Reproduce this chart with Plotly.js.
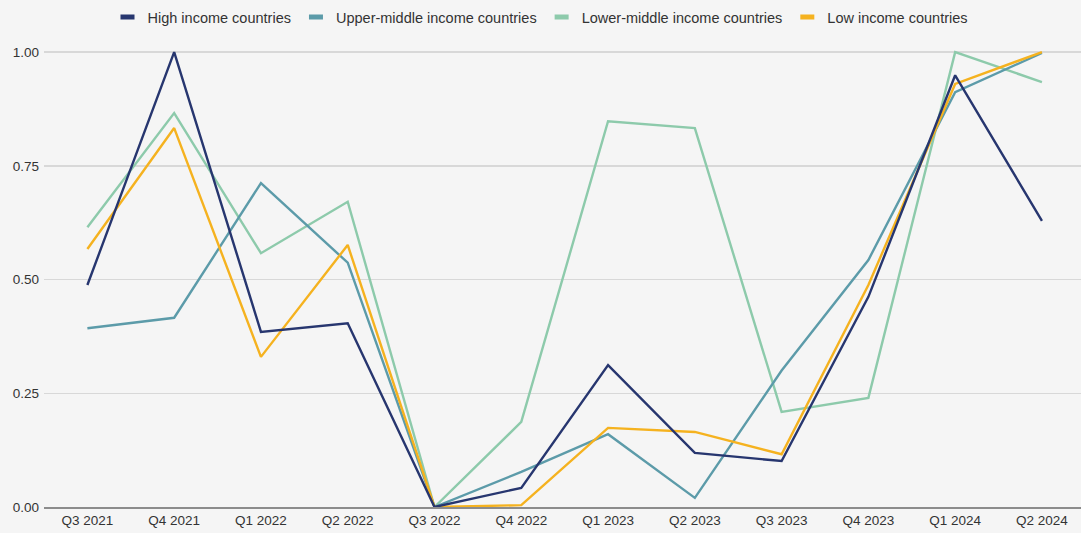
<!DOCTYPE html>
<html><head><meta charset="utf-8">
<script src="https://cdn.plot.ly/plotly-3.0.1.min.js"></script>
<style>html,body{margin:0;padding:0;background:#f5f5f5;}#chart{width:1081px;height:533px;}</style>
</head><body><div id="chart"></div>
<script>
const quarters = ["Q3 2021","Q4 2021","Q1 2022","Q2 2022","Q3 2022","Q4 2022","Q1 2023","Q2 2023","Q3 2023","Q4 2023","Q1 2024","Q2 2024"];
const highIncome = [0.488,1.00,0.385,0.404,0.0,0.042,0.312,0.119,0.101,0.462,0.949,0.629];
const upperMiddle = [0.393,0.416,0.712,0.537,0.0,0.077,0.160,0.020,0.300,0.543,0.912,0.998];
const lowerMiddle = [0.615,0.866,0.558,0.671,0.0,0.187,0.848,0.833,0.209,0.240,1.00,0.934];
const lowIncome = [0.567,0.833,0.330,0.576,0.0,0.004,0.174,0.165,0.116,0.488,0.930,1.00];
const seriesNames = ["High income countries","Upper-middle income countries","Lower-middle income countries","Low income countries"];
const yTicks = [0,0.25,0.5,0.75,1.0];
const yTickLabels = ["0.00","0.25","0.50","0.75","1.00"];

const colors = ["#27366f","#5c9ba9","#8dcaab","#f5b21f"];
const series = [highIncome, upperMiddle, lowerMiddle, lowIncome];
const traces = [];
const order = [2,1,3,0];
order.forEach(i => {
  traces.push({x: quarters, y: series[i], type:'scatter', mode:'lines', name: seriesNames[i],
    line:{color: colors[i], width: 2.4}, showlegend:false, hoverinfo:'x+y'});
});
[0,1,2,3].forEach(i => {
  traces.push({x:[null], y:[null], type:'scatter', mode:'markers', name: seriesNames[i],
    marker:{symbol:'line-ew', size:10, color: colors[i], line:{color: colors[i], width:5}}, showlegend:true});
});

const layout = {
  width:1081, height:533,
  paper_bgcolor:'#f5f5f5', plot_bgcolor:'#f5f5f5',
  margin:{l:44, r:0, t:43, b:26},
  font:{family:'Liberation Sans, Arial, sans-serif', size:13, color:'#333'},
  showlegend:true,
  legend:{orientation:'h', x:0.5, xanchor:'center', xref:'container', y:0.998, yanchor:'top', yref:'container',
    font:{size:14.5, color:'#333'}, itemwidth:30, traceorder:'normal', bgcolor:'rgba(0,0,0,0)'},
  xaxis:{type:'category', range:[-0.5, 11.45], showgrid:false, zeroline:false,
    showline:true, linecolor:'#8c8c8c', linewidth:1.5, ticks:'', tickfont:{size:13.5, color:'#333'}, fixedrange:true},
  yaxis:{range:[0,1.02], tickvals:yTicks, ticktext:yTickLabels, showgrid:true, gridcolor:'#d8d8d8', gridwidth:1.5,
    zeroline:false, showline:false, ticks:'', tickfont:{size:13.5, color:'#333'}, ticklabelstandoff:4, fixedrange:true}
};
Plotly.newPlot('chart', traces, layout, {displayModeBar:false, staticPlot:true});
</script></body></html>
